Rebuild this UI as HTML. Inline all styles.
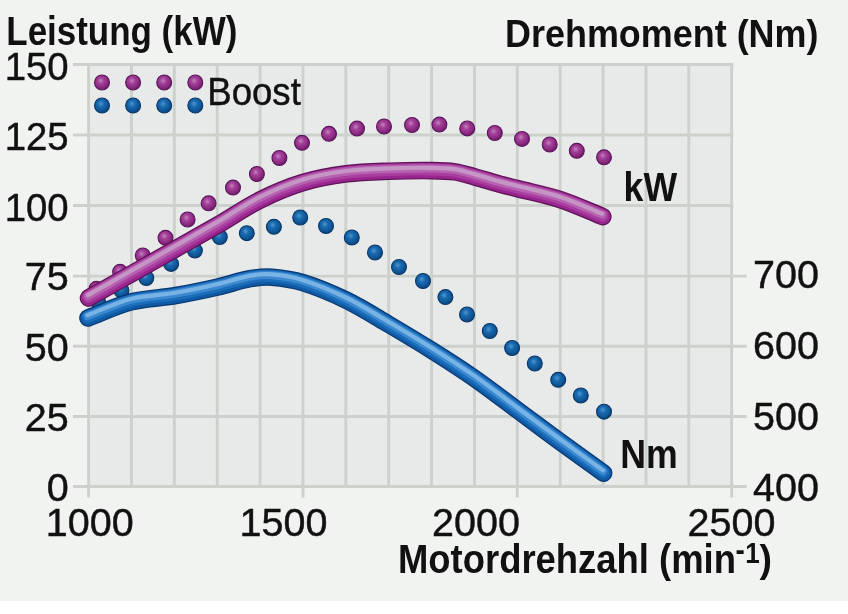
<!DOCTYPE html>
<html lang="de"><head><meta charset="utf-8"><title>Leistung und Drehmoment</title>
<style>html,body{margin:0;padding:0;background:#fff}body{width:848px;height:614px;overflow:hidden}svg{display:block}text{font-family:"Liberation Sans",sans-serif;fill:#111;stroke:#111;stroke-width:0.45px}.b{font-weight:bold;stroke:none}.p{stroke:none}</style></head><body>
<svg width="848" height="614" viewBox="0 0 848 614">
<defs>
<radialGradient id="gp" cx="0.42" cy="0.38" r="0.62"><stop offset="0" stop-color="#c183bb"/><stop offset="0.35" stop-color="#a33f98"/><stop offset="0.75" stop-color="#8a2880"/><stop offset="1" stop-color="#701d69"/></radialGradient>
<radialGradient id="gb" cx="0.42" cy="0.38" r="0.62"><stop offset="0" stop-color="#5196d0"/><stop offset="0.35" stop-color="#196aaf"/><stop offset="0.75" stop-color="#0e5696"/><stop offset="1" stop-color="#0a447d"/></radialGradient>
<circle id="dp" r="7.45" fill="url(#gp)" stroke="#58155a" stroke-width="1.1"/><circle id="db" r="7.45" fill="url(#gb)" stroke="#0a3566" stroke-width="1.1"/>
<path id="pm" d="M88.5 298.0 C102.8 289.9 117.1 281.9 131.4 273.8 C145.8 265.7 160.1 257.6 174.5 249.5 C188.9 241.3 203.4 233.3 217.8 225.0 C232.0 216.8 245.4 207.3 260.1 200.0 C273.9 193.1 288.2 187.0 303.0 182.5 C317.2 178.2 331.8 175.7 346.5 173.8 C360.5 172.0 374.6 171.7 388.7 171.2 C403.1 170.7 417.4 170.4 431.8 170.6 C439.5 170.7 447.3 170.8 455.0 171.9 C461.8 172.9 468.3 175.1 474.9 176.9 C483.3 179.2 491.6 181.9 500.0 184.2 C505.8 185.8 511.7 187.1 517.6 188.6 C532.1 192.3 546.8 195.1 561.0 199.8 C575.3 204.5 588.9 211.0 602.8 216.6"/>
<path id="pb" d="M88.0 318.0 C102.5 312.6 116.4 305.6 131.4 301.8 C145.4 298.2 160.2 298.2 174.5 295.8 C189.0 293.3 203.4 290.3 217.8 287.0 C228.6 284.6 239.1 280.7 250.0 278.7 C257.2 277.4 264.7 276.6 272.0 277.2 C282.5 278.0 293.0 279.6 303.0 282.7 C317.9 287.3 332.4 293.5 346.5 300.3 C361.2 307.4 374.9 316.2 389.0 324.5 C403.4 333.0 417.8 341.6 432.0 350.5 C446.5 359.6 460.9 368.9 475.0 378.7 C489.6 388.9 503.7 399.9 518.0 410.5 C532.3 421.1 546.6 431.8 561.0 442.3 C575.2 452.7 589.4 462.9 603.6 473.2"/>
</defs>
<rect width="848" height="614" fill="#ffffff"/>
<rect width="848" height="601" fill="#f1f3f1"/>
<rect x="88.6" y="64.5" width="643.1" height="422.0" fill="#e8eaea"/>
<g stroke="#ccd1cc" stroke-width="2.9" fill="none">
<line x1="88.6" y1="63.0" x2="88.6" y2="497.5"/>
<line x1="131.5" y1="63.0" x2="131.5" y2="486.5"/>
<line x1="174.3" y1="63.0" x2="174.3" y2="486.5"/>
<line x1="217.2" y1="63.0" x2="217.2" y2="486.5"/>
<line x1="260.1" y1="63.0" x2="260.1" y2="486.5"/>
<line x1="303.0" y1="63.0" x2="303.0" y2="497.5"/>
<line x1="345.8" y1="63.0" x2="345.8" y2="486.5"/>
<line x1="388.7" y1="63.0" x2="388.7" y2="486.5"/>
<line x1="431.6" y1="63.0" x2="431.6" y2="486.5"/>
<line x1="474.5" y1="63.0" x2="474.5" y2="486.5"/>
<line x1="517.3" y1="63.0" x2="517.3" y2="497.5"/>
<line x1="560.2" y1="63.0" x2="560.2" y2="486.5"/>
<line x1="603.1" y1="63.0" x2="603.1" y2="486.5"/>
<line x1="646.0" y1="63.0" x2="646.0" y2="486.5"/>
<line x1="688.8" y1="63.0" x2="688.8" y2="486.5"/>
<line x1="731.7" y1="63.0" x2="731.7" y2="497.5"/>
<line x1="73.0" y1="64.5" x2="733.2" y2="64.5"/>
<line x1="73.0" y1="135.0" x2="733.2" y2="135.0"/>
<line x1="73.0" y1="205.5" x2="733.2" y2="205.5"/>
<line x1="73.0" y1="276.1" x2="746.7" y2="276.1"/>
<line x1="73.0" y1="346.3" x2="746.7" y2="346.3"/>
<line x1="73.0" y1="416.5" x2="746.7" y2="416.5"/>
<line x1="73.0" y1="486.5" x2="746.7" y2="486.5"/>
</g>
<g>
<use href="#db" x="98.0" y="301.5"/>
<use href="#db" x="121.5" y="290.5"/>
<use href="#db" x="146.3" y="278.0"/>
<use href="#db" x="171.1" y="263.9"/>
<use href="#db" x="194.9" y="250.6"/>
<use href="#db" x="219.8" y="237.0"/>
<use href="#db" x="246.8" y="233.2"/>
<use href="#db" x="273.9" y="226.8"/>
<use href="#db" x="300.2" y="217.5"/>
<use href="#db" x="326.0" y="226.0"/>
<use href="#db" x="351.8" y="237.5"/>
<use href="#db" x="375.0" y="252.5"/>
<use href="#db" x="399.0" y="267.0"/>
<use href="#db" x="423.0" y="281.0"/>
<use href="#db" x="445.4" y="297.1"/>
<use href="#db" x="467.0" y="314.5"/>
<use href="#db" x="489.8" y="331.0"/>
<use href="#db" x="512.1" y="348.0"/>
<use href="#db" x="534.8" y="363.5"/>
<use href="#db" x="558.2" y="379.8"/>
<use href="#db" x="580.8" y="395.5"/>
<use href="#db" x="604.0" y="411.7"/>
<use href="#dp" x="96.5" y="288.8"/>
<use href="#dp" x="120.1" y="271.8"/>
<use href="#dp" x="142.8" y="255.5"/>
<use href="#dp" x="165.5" y="237.8"/>
<use href="#dp" x="187.6" y="219.5"/>
<use href="#dp" x="208.6" y="203.3"/>
<use href="#dp" x="233.0" y="187.6"/>
<use href="#dp" x="256.9" y="174.0"/>
<use href="#dp" x="279.4" y="158.0"/>
<use href="#dp" x="302.0" y="142.8"/>
<use href="#dp" x="329.0" y="133.8"/>
<use href="#dp" x="357.0" y="128.6"/>
<use href="#dp" x="384.0" y="126.5"/>
<use href="#dp" x="412.0" y="125.0"/>
<use href="#dp" x="439.4" y="124.6"/>
<use href="#dp" x="467.2" y="128.4"/>
<use href="#dp" x="494.8" y="133.0"/>
<use href="#dp" x="522.0" y="138.9"/>
<use href="#dp" x="549.7" y="144.5"/>
<use href="#dp" x="576.8" y="150.8"/>
<use href="#dp" x="604.0" y="157.3"/>
<use href="#dp" x="102.0" y="82.5"/>
<use href="#db" x="102.0" y="105.5"/>
<use href="#dp" x="133.1" y="82.5"/>
<use href="#db" x="133.1" y="105.5"/>
<use href="#dp" x="164.2" y="82.5"/>
<use href="#db" x="164.2" y="105.5"/>
<use href="#dp" x="195.3" y="82.5"/>
<use href="#db" x="195.3" y="105.5"/>
</g>
<g fill="none" stroke-linecap="round" stroke-linejoin="round">
<use href="#pb" stroke="#0a3872" stroke-width="17.6"/>
<use href="#pb" stroke="#1059a3" stroke-width="15.2"/>
<use href="#pb" stroke="#1a6dbb" stroke-width="12" transform="translate(-0.3,-1.2)"/>
<use href="#pb" stroke="#3c89cf" stroke-width="8" transform="translate(-0.5,-2.0)"/>
<use href="#pb" stroke="#78b3e6" stroke-width="4.2" transform="translate(-0.6,-2.8)"/>
</g>
<g fill="none" stroke-linecap="round" stroke-linejoin="round">
<use href="#pm" stroke="#5c1456" stroke-width="17.6"/>
<use href="#pm" stroke="#98268e" stroke-width="15.2"/>
<use href="#pm" stroke="#a93ea0" stroke-width="12" transform="translate(-0.3,-1.2)"/>
<use href="#pm" stroke="#b662b1" stroke-width="8" transform="translate(-0.5,-2.0)"/>
<use href="#pm" stroke="#c595c6" stroke-width="4.2" transform="translate(-0.6,-2.8)"/>
</g>
<text class="b" x="6.3" y="44.6" font-size="40" textLength="231" lengthAdjust="spacingAndGlyphs">Leistung (kW)</text>
<text class="b" x="505" y="46.5" font-size="39.5" textLength="313.5" lengthAdjust="spacingAndGlyphs">Drehmoment (Nm)</text>
<text x="207.3" y="105.3" font-size="38" textLength="93.5" lengthAdjust="spacingAndGlyphs">Boost</text>
<text class="b p" x="623.6" y="200.7" font-size="41" textLength="53.5" lengthAdjust="spacingAndGlyphs">kW</text>
<text class="b p" x="620.3" y="467.5" font-size="41" textLength="57.5" lengthAdjust="spacingAndGlyphs">Nm</text>
<text x="68.7" y="80.0" font-size="39.5" text-anchor="end" textLength="64" lengthAdjust="spacingAndGlyphs">150</text>
<text x="68.7" y="150.0" font-size="39.5" text-anchor="end" textLength="64" lengthAdjust="spacingAndGlyphs">125</text>
<text x="68.7" y="220.5" font-size="39.5" text-anchor="end" textLength="64" lengthAdjust="spacingAndGlyphs">100</text>
<text x="68.7" y="290.3" font-size="39.5" text-anchor="end">75</text>
<text x="68.7" y="360.5" font-size="39.5" text-anchor="end">50</text>
<text x="68.7" y="430.5" font-size="39.5" text-anchor="end">25</text>
<text x="68.7" y="500.5" font-size="39.5" text-anchor="end">0</text>
<text x="753" y="287.5" font-size="39.5">700</text>
<text x="753" y="359.3" font-size="39.5">600</text>
<text x="753" y="430.2" font-size="39.5">500</text>
<text x="753" y="500.5" font-size="39.5">400</text>
<text x="45.8" y="536" font-size="39.5">1000</text>
<text x="239.5" y="536" font-size="39.5">1500</text>
<text x="432.0" y="536" font-size="39.5">2000</text>
<text x="687.5" y="536" font-size="39.5">2500</text>
<text class="b" x="398" y="572.6" font-size="40" textLength="338" lengthAdjust="spacingAndGlyphs">Motordrehzahl (min</text>
<text class="b" x="735.6" y="560.4" font-size="31" textLength="9.3" lengthAdjust="spacingAndGlyphs">-</text>
<text class="b" x="745.3" y="562.7" font-size="30" textLength="14.5" lengthAdjust="spacingAndGlyphs">1</text>
<text class="b" x="759.5" y="571.8" font-size="38.5" textLength="12.5" lengthAdjust="spacingAndGlyphs">)</text>
</svg></body></html>
